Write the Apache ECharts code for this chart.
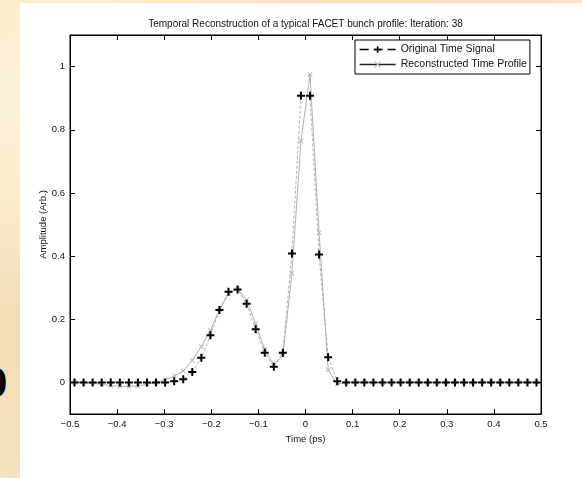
<!DOCTYPE html>
<html>
<head>
<meta charset="utf-8">
<script src="https://cdn.jsdelivr.net/npm/echarts@6/dist/echarts.min.js"></script>
<style>
  html, body { margin: 0; padding: 0; }
  body {
    width: 582px; height: 478px; overflow: hidden; position: relative;
    background-color: #f7e5c3;
    background-image:
      radial-gradient(ellipse at 10% 20%, rgba(255,246,226,0.8) 0%, rgba(255,246,226,0) 40%),
      radial-gradient(ellipse at 5% 70%, rgba(238,214,172,0.6) 0%, rgba(238,214,172,0) 45%),
      radial-gradient(ellipse at 60% 0%, rgba(244,222,186,0.7) 0%, rgba(244,222,186,0) 50%);
  }
  #panel { position: absolute; left: 20px; top: 3px; width: 562px; height: 475px; background: #fff; }
  #slideDigit {
    position: absolute; left: -16px; top: 359px;
    font: bold 42px "Liberation Sans", Arial, sans-serif; color: #000; line-height: 48px;
  }
  #chart { position: absolute; left: 0; top: 0; width: 582px; height: 478px; }
</style>
</head>
<body>
<div id="slideDigit">0</div>
<div id="panel"></div>
<div id="chart"></div>
<script>
// Sample times (ps)
const timePs = [
  -0.4904, -0.4712, -0.4519, -0.4327, -0.4135, -0.3942, -0.3750, -0.3558, -0.3365, -0.3173,
  -0.2981, -0.2788, -0.2596, -0.2404, -0.2212, -0.2019, -0.1827, -0.1635, -0.1442, -0.1250,
  -0.1058, -0.0865, -0.0673, -0.0481, -0.0288, -0.0096,  0.0096,  0.0288,  0.0481,  0.0673,
   0.0865,  0.1058,  0.1250,  0.1442,  0.1635,  0.1827,  0.2019,  0.2212,  0.2404,  0.2596,
   0.2788,  0.2981,  0.3173,  0.3365,  0.3558,  0.3750,  0.3942,  0.4135,  0.4327,  0.4519,
   0.4712,  0.4904
];
// Original time signal amplitude
const originalSignal = [
  0, 0, 0, 0, 0, 0, 0, 0, 0, 0,
  0, 0.004, 0.010, 0.033, 0.078, 0.149, 0.229, 0.287, 0.294, 0.249,
  0.168, 0.094, 0.050, 0.094, 0.408, 0.908, 0.908, 0.405, 0.080, 0.004,
  0, 0, 0, 0, 0, 0, 0, 0, 0, 0,
  0, 0, 0, 0, 0, 0, 0, 0, 0, 0,
  0, 0
];
// Reconstructed time profile amplitude (iteration 38)
const reconstructed = [
  0.000, 0.000, -0.003, -0.006, -0.010, -0.012, -0.013, -0.011, -0.006, 0.000,
  0.008, 0.020, 0.036, 0.070, 0.113, 0.165, 0.230, 0.280, 0.296, 0.262,
  0.185, 0.105, 0.055, 0.085, 0.345, 0.764, 0.975, 0.474, 0.040, -0.005,
  0.000, 0.002, 0.001, 0.000, -0.001, 0.000, 0.001, 0.002, 0.001, 0.000,
  -0.001, 0.000, 0.001, 0.000, 0.000, 0.001, 0.002, 0.001, 0.000, 0.001,
  0.002, 0.001
];
const yTickValues = [0, 0.2, 0.4, 0.6, 0.8, 1];

const chartTitle = 'Temporal Reconstruction of a typical FACET bunch profile: Iteration: 38';
const FONT = '"Liberation Sans", Arial, sans-serif';

const plusSymbol = 'path://M3,0h2v3h3v2h-3v3h-2v-3h-3v-2h3z';
const crossSymbol = 'path://M0,1L1,0L4,3L7,0L8,1L5,4L8,7L7,8L4,5L1,8L0,7L3,4Z';

const pairs = (xs, ys) => xs.map((x, i) => [x, ys[i]]);
const fmtX = v => (Math.abs(v) < 1e-9 ? '0' : v.toFixed(1)).replace('-', '\u2212');
const fmtY = v => String(+v.toFixed(1));

const chart = echarts.init(document.getElementById('chart'), null, { renderer: 'canvas' });

const tickStyle = { inside: true, length: 5, lineStyle: { color: '#000', width: 1 } };
const lineAxis = { show: true, onZero: false, lineStyle: { color: '#000', width: 1 } };

chart.setOption({
  animation: false,
  backgroundColor: 'transparent',
  graphic: [{
    type: 'text', x: 305.5, y: 24, z: 10,
    style: { text: chartTitle, font: '10px ' + FONT, fill: '#111', textAlign: 'center', textVerticalAlign: 'middle' }
  }],
  grid: { left: 70, right: 41, top: 35, bottom: 64, show: true, borderColor: '#000', borderWidth: 1, backgroundColor: '#fff' },
  legend: {
    orient: 'vertical', left: 355, top: 40,
    itemWidth: 36, itemHeight: 8, itemGap: 4,
    padding: [4, 3, 4, 4],
    backgroundColor: '#fff', borderColor: '#000', borderWidth: 1, borderRadius: 0,
    textStyle: { fontSize: 10.5, color: '#111', fontFamily: FONT },
    data: [
      { name: 'Original Time Signal', lineStyle: { color: '#000', width: 1.3, type: [9, 5] }, itemStyle: { color: '#000' } },
      { name: 'Reconstructed Time Profile', lineStyle: { color: '#222', width: 1.3, type: 'solid' }, itemStyle: { color: '#bbb' } }
    ]
  },
  xAxis: [{
    type: 'value', position: 'bottom', min: -0.5, max: 0.5, interval: 0.1,
    axisLine: lineAxis, axisTick: tickStyle, splitLine: { show: false },
    axisLabel: { formatter: fmtX, fontSize: 9.5, color: '#111', fontFamily: FONT, margin: 5 },
    name: 'Time (ps)', nameLocation: 'middle', nameGap: 18,
    nameTextStyle: { fontSize: 9.5, color: '#111', fontFamily: FONT }
  }, {
    type: 'value', position: 'top', min: -0.5, max: 0.5, interval: 0.1,
    axisLine: lineAxis, axisTick: tickStyle, splitLine: { show: false }, axisLabel: { show: false }
  }],
  yAxis: [{
    type: 'value', position: 'left', min: -0.1, max: 1.1,
    axisLine: lineAxis, splitLine: { show: false },
    axisTick: Object.assign({ customValues: yTickValues }, tickStyle),
    axisLabel: { customValues: yTickValues, formatter: fmtY, fontSize: 9.5, color: '#111', fontFamily: FONT, margin: 5 },
    name: 'Amplitude (Arb.)', nameLocation: 'middle', nameGap: 22, nameRotate: 90, nameMoveOverlap: false,
    nameTextStyle: { fontSize: 9.5, color: '#111', fontFamily: FONT }
  }, {
    type: 'value', position: 'right', min: -0.1, max: 1.1,
    axisLine: lineAxis, splitLine: { show: false },
    axisTick: Object.assign({ customValues: yTickValues }, tickStyle),
    axisLabel: { show: false }
  }],
  series: [{
    name: 'Reconstructed Time Profile', type: 'line', xAxisIndex: 0, yAxisIndex: 0,
    data: pairs(timePs, reconstructed),
    symbol: crossSymbol, symbolSize: 5, showAllSymbol: true,
    itemStyle: { color: '#b5b5b5' },
    lineStyle: { color: '#b0b0b0', width: 1 },
    z: 2
  }, {
    name: 'Original Time Signal', type: 'line', xAxisIndex: 0, yAxisIndex: 0,
    data: pairs(timePs, originalSignal),
    symbol: plusSymbol, symbolSize: 8, showAllSymbol: true,
    itemStyle: { color: '#000' },
    lineStyle: { color: '#a0a0a0', width: 0.8, type: [3, 2] },
    z: 3
  }]
});
</script>
</body>
</html>
